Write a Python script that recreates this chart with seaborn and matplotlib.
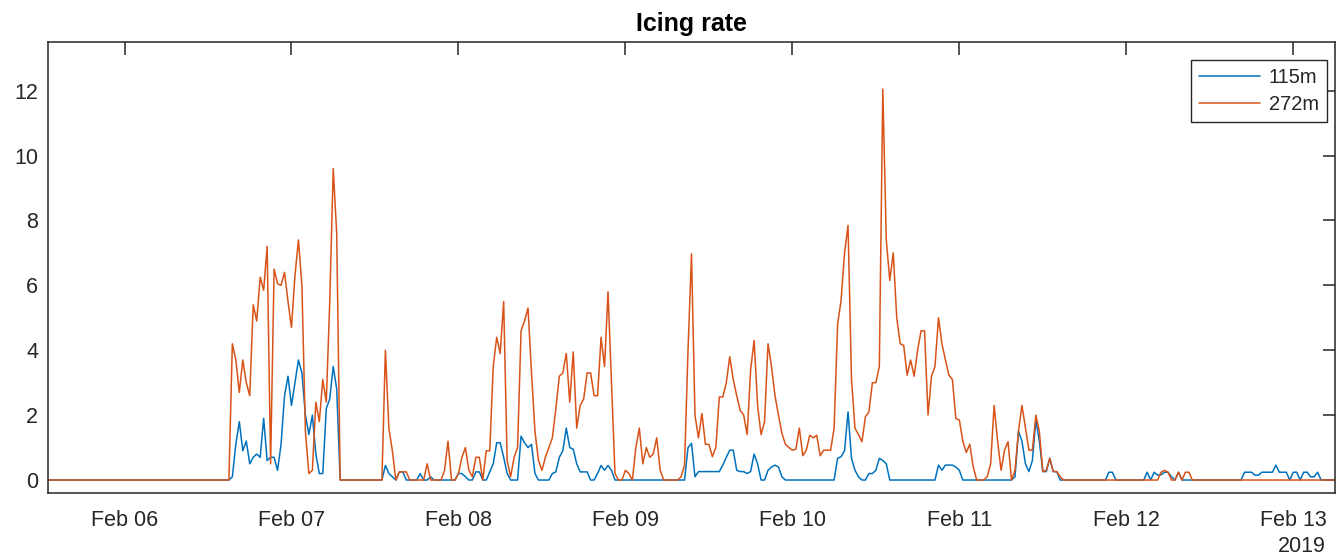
import pandas as pd
import matplotlib
matplotlib.use("Agg")
import matplotlib.pyplot as plt
import matplotlib.dates as mdates
import seaborn as sns

# Icing rate measured at two mast heights.
# Half-hourly values from 2019-02-06 12:00 to 2019-02-13 06:00 (one row = 6 hours);
# the record itself begins at 2019-02-05 13:00 with no icing.
sensors = ["115m", "272m"]
record_start = "2019-02-05 13:00"
grid_start = "2019-02-06 12:00"
record_end = "2019-02-13 06:00"
year_label = "2019"
title = "Icing rate"

rate_115m = [
    0, 0, 0, 0, 0, 0, 0, 0.1, 1.1, 1.8, 0.9, 1.2,
    0.5, 0.7, 0.8, 0.7, 1.9, 0.6, 0.7, 0.7, 0.3, 1.1, 2.6, 3.2,
    2.3, 3.0, 3.7, 3.3, 2.0, 1.4, 2.0, 0.8, 0.2, 0.2, 2.2, 2.5,
    3.5, 2.8, 0, 0, 0, 0, 0, 0, 0, 0, 0, 0,
    0, 0, 0, 0.45, 0.2, 0.1, 0, 0.25, 0.25, 0, 0, 0,
    0, 0.2, 0, 0, 0.1, 0, 0, 0, 0, 0, 0, 0,
    0.2, 0.2, 0.1, 0, 0, 0.25, 0.25, 0, 0, 0.25, 0.5, 1.15,
    1.15, 0.7, 0.2, 0, 0, 0, 1.35, 1.15, 1.0, 1.1, 0.2, 0,
    0, 0, 0, 0.2, 0.25, 0.7, 0.9, 1.6, 1.0, 0.95, 0.5, 0.25,
    0.25, 0.25, 0, 0, 0.2, 0.45, 0.3, 0.45, 0.3, 0, 0, 0,
    0, 0, 0, 0, 0, 0, 0, 0, 0, 0, 0, 0,
    0, 0, 0, 0, 0, 0, 1.0, 1.13, 0.1, 0.26, 0.26, 0.26,
    0.26, 0.26, 0.26, 0.26, 0.46, 0.7, 0.92, 0.92, 0.3, 0.26, 0.26, 0.2,
    0.26, 0.8, 0.5, 0, 0, 0.3, 0.4, 0.46, 0.4, 0.1, 0, 0,
    0, 0, 0, 0, 0, 0, 0, 0, 0, 0, 0, 0,
    0, 0.67, 0.72, 0.9, 2.1, 0.67, 0.3, 0.1, 0, 0, 0.2, 0.2,
    0.3, 0.67, 0.6, 0.5, 0, 0, 0, 0, 0, 0, 0, 0,
    0, 0, 0, 0, 0, 0, 0.46, 0.3, 0.46, 0.46, 0.46, 0.4,
    0.3, 0, 0, 0, 0, 0, 0, 0, 0, 0, 0, 0,
    0, 0, 0, 0, 0.1, 1.5, 1.2, 0.5, 0.26, 0.6, 1.85, 1.2,
    0.26, 0.26, 0.67, 0.26, 0.26, 0, 0, 0, 0, 0, 0, 0,
    0, 0, 0, 0, 0, 0, 0, 0.24, 0.24, 0, 0, 0,
    0, 0, 0, 0, 0, 0, 0.24, 0, 0.24, 0.15, 0.16, 0.24,
    0.24, 0.1, 0, 0.24, 0, 0, 0, 0, 0, 0, 0, 0,
    0, 0, 0, 0, 0, 0, 0, 0, 0, 0, 0.24, 0.24,
    0.24, 0.15, 0.15, 0.24, 0.24, 0.24, 0.24, 0.46, 0.24, 0.24, 0.24, 0,
    0.24, 0.24, 0, 0.24, 0.24, 0.1, 0.1, 0.24, 0, 0, 0, 0,
    0,
]

rate_272m = [
    0, 0, 0, 0, 0, 0, 0, 4.2, 3.7, 2.7, 3.7, 3.0,
    2.6, 5.4, 4.9, 6.25, 5.85, 7.2, 0.5, 6.5, 6.05, 6.0, 6.4, 5.5,
    4.7, 6.3, 7.4, 6.0, 1.5, 0.2, 0.3, 2.4, 1.8, 3.1, 2.4, 5.5,
    9.6, 7.6, 0, 0, 0, 0, 0, 0, 0, 0, 0, 0,
    0, 0, 0, 4.0, 1.6, 0.9, 0, 0.25, 0.25, 0.25, 0, 0,
    0, 0, 0, 0.5, 0, 0, 0, 0, 0.3, 1.2, 0, 0,
    0.2, 0.7, 1.0, 0.3, 0.1, 0.7, 0.7, 0, 0.9, 0.9, 3.5, 4.4,
    3.9, 5.5, 0.6, 0.1, 0.7, 1.0, 4.6, 4.9, 5.3, 3.3, 1.5, 0.6,
    0.3, 0.7, 1.0, 1.3, 2.2, 3.2, 3.3, 3.9, 2.4, 3.95, 1.6, 2.3,
    2.5, 3.3, 3.3, 2.6, 2.6, 4.4, 3.5, 5.8, 3.0, 0.2, 0, 0,
    0.3, 0.2, 0, 1.0, 1.6, 0.5, 1.0, 0.7, 0.8, 1.3, 0.3, 0,
    0, 0, 0, 0, 0.1, 0.46, 4.0, 6.97, 2.0, 1.3, 2.05, 1.1,
    1.1, 0.72, 1.0, 2.56, 2.56, 3.0, 3.8, 3.1, 2.6, 2.15, 2.0, 1.4,
    3.4, 4.3, 2.3, 1.4, 1.8, 4.2, 3.5, 2.6, 2.0, 1.44, 1.1, 1.0,
    0.92, 0.95, 1.6, 0.75, 0.92, 1.38, 1.3, 1.38, 0.75, 0.92, 0.92, 0.92,
    1.6, 4.8, 5.54, 7.0, 7.85, 3.1, 1.6, 1.4, 1.18, 1.95, 2.1, 3.0,
    3.0, 3.5, 12.05, 7.4, 6.15, 7.0, 5.0, 4.2, 4.15, 3.23, 3.7, 3.2,
    4.0, 4.6, 4.6, 2.0, 3.2, 3.5, 5.0, 4.2, 3.7, 3.23, 3.1, 1.9,
    1.85, 1.2, 0.85, 1.1, 0.4, 0, 0, 0, 0.1, 0.5, 2.3, 1.2,
    0.3, 0.92, 1.18, 0, 0.3, 1.5, 2.3, 1.6, 0.92, 0.92, 2.0, 1.5,
    0.26, 0.3, 0.67, 0.26, 0.26, 0.1, 0, 0, 0, 0, 0, 0,
    0, 0, 0, 0, 0, 0, 0, 0, 0, 0, 0, 0,
    0, 0, 0, 0, 0, 0, 0, 0, 0, 0, 0.24, 0.3,
    0.24, 0, 0, 0.24, 0, 0.24, 0.24, 0, 0, 0, 0, 0,
    0, 0, 0, 0, 0, 0, 0, 0, 0, 0, 0, 0,
    0, 0, 0, 0, 0, 0, 0, 0, 0, 0, 0, 0,
    0, 0, 0, 0, 0, 0, 0, 0, 0, 0, 0, 0,
    0,
]

line_colors = {"115m": "#0072BD", "272m": "#D95319"}
ink = "#262626"

# ---- long-form table ----
times = pd.date_range(grid_start, record_end, freq="30min")
assert len(times) == len(rate_115m) == len(rate_272m), (len(times), len(rate_115m), len(rate_272m))
frames = []
for name, values in zip(sensors, [rate_115m, rate_272m]):
    frames.append(pd.DataFrame({
        "time": [pd.Timestamp(record_start)] + list(times),
        "rate": [0.0] + [float(v) for v in values],
        "sensor": name,
    }))
df = pd.concat(frames, ignore_index=True)

# ---- style ----
sns.set_style("white")
plt.rcParams["font.family"] = ["Liberation Sans", "DejaVu Sans"]
plt.rcParams["axes.edgecolor"] = ink
plt.rcParams["text.color"] = ink

W, H = 1336, 557
fig = plt.figure(figsize=(W / 100, H / 100), dpi=100)
ax = fig.add_axes([48 / W, 1 - 493 / H, 1287 / W, 451 / H])

sns.lineplot(data=df, x="time", y="rate", hue="sensor", hue_order=sensors,
             palette=line_colors, estimator=None, sort=False,
             linewidth=1.1, legend=False, ax=ax)

ax.set_xlim(pd.Timestamp(record_start), pd.Timestamp(record_end))
ax.set_ylim(-0.4, 13.5)
ax.set_yticks([0, 2, 4, 6, 8, 10, 12])
ax.xaxis.set_major_locator(mdates.DayLocator())
ax.xaxis.set_major_formatter(mdates.DateFormatter("%b %d"))
ax.set_xlabel("")
ax.set_ylabel("")

for sp in ax.spines.values():
    sp.set_visible(True)
    sp.set_color(ink)
    sp.set_linewidth(1.1)

ax.tick_params(axis="both", direction="in", length=9, width=1.1, colors=ink,
               top=True, right=True, labelsize=15.5)
ax.tick_params(axis="x", pad=12)
ax.tick_params(axis="y", pad=7)

ax.set_title(title, fontsize=18, fontweight="bold", color="black", pad=8)

handles = ax.get_lines()[:2]
leg = ax.legend(handles, sensors, loc="upper right",
                bbox_to_anchor=(0.9938, 0.960), borderaxespad=0,
                fontsize=14.5, frameon=True, fancybox=False, shadow=False,
                framealpha=1, edgecolor=ink, handlelength=3.0,
                handletextpad=0.45, labelspacing=0.4, borderpad=0.4)
leg.get_frame().set_linewidth(1.0)

fig.text(1326 / W, 1 - 546 / H, year_label, ha="right", va="center",
         fontsize=15.5, color=ink)

fig.savefig("out.png", dpi=100, facecolor="white")
